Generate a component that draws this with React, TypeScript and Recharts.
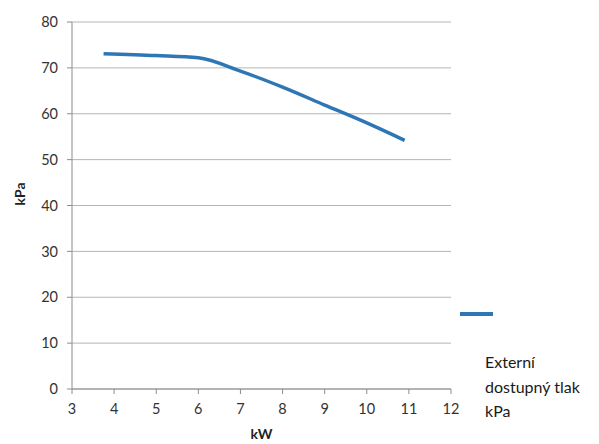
import React from 'react';
import { LineChart, Line, XAxis, YAxis, CartesianGrid } from 'recharts';

// values
const KW = [3.75, 5, 6, 7, 8, 9, 10, 10.9];
const KPA = [73.1, 72.7, 72.2, 69.3, 65.8, 61.9, 58.0, 54.2];
const X_TICKS = [3, 4, 5, 6, 7, 8, 9, 10, 11, 12];
const Y_TICKS = [0, 10, 20, 30, 40, 50, 60, 70, 80];
const LEGEND_LINES = ['Externí', 'dostupný tlak', 'kPa'];

const DATA = KW.map((kw, i) => ({ kw, kpa: KPA[i] }));

const FONT = 'Lato, "Open Sans", sans-serif';
const BLUE = '#2e77b4';
const TEXT = '#333';

// legend sits outside the plot, so it is plain html next to the chart
const SeriesLegend = () => (
  <div style={{ position: 'absolute', left: 460, top: 312, width: 139, fontFamily: FONT, color: '#1a1a1a', fontSize: 16 }}>
    <div style={{ width: 33, height: 4, background: BLUE, marginBottom: 34 }} />
    <div style={{ marginLeft: 25, lineHeight: '24.5px' }}>
      {LEGEND_LINES.map((t) => (
        <div key={t}>{t}</div>
      ))}
    </div>
  </div>
);

export default function App() {
  return (
    <div style={{ position: 'absolute', left: 0, top: 0, width: 599, height: 444, background: '#fff' }}>
      <LineChart width={599} height={444} data={DATA} margin={{ top: 22, right: 148, bottom: 0, left: 0 }}>
        <CartesianGrid stroke="#b5b5b5" vertical={false} />
        <XAxis
          dataKey="kw"
          type="number"
          domain={[3, 12]}
          ticks={X_TICKS}
          height={55}
          stroke="#8c8c8c"
          tickSize={5}
          tickMargin={10}
          tick={{ fill: TEXT, fontSize: 14.5, fontFamily: FONT }}
          label={{ value: 'kW', position: 'insideBottom', offset: 5, fill: '#222', fontSize: 14, fontWeight: 700, fontFamily: FONT }}
        />
        <YAxis
          type="number"
          domain={[0, 80]}
          ticks={Y_TICKS}
          width={72}
          stroke="#8c8c8c"
          tickSize={5}
          tickMargin={9}
          tick={{ fill: TEXT, fontSize: 14.5, fontFamily: FONT }}
          label={{ value: 'kPa', angle: -90, position: 'insideLeft', offset: 20, fill: '#222', fontSize: 14, fontWeight: 700, fontFamily: FONT }}
        />
        <Line
          type="monotone"
          dataKey="kpa"
          name="Externí dostupný tlak kPa"
          stroke={BLUE}
          strokeWidth={3.5}
          dot={false}
          isAnimationActive={false}
        />
      </LineChart>
      <SeriesLegend />
    </div>
  );
}
